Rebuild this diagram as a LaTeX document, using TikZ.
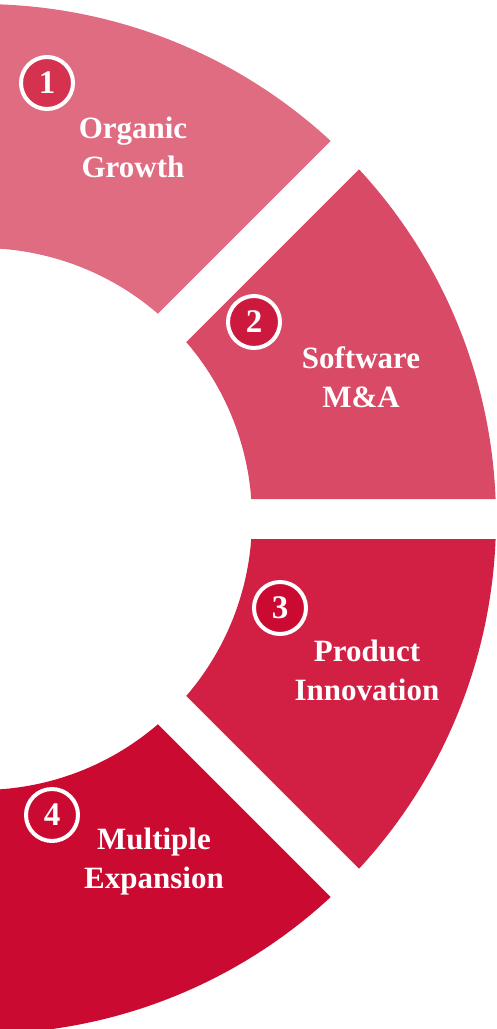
\documentclass[tikz,border=0pt]{standalone}
\usepackage{fontspec}
\setmainfont{Liberation Serif}
\usetikzlibrary{calc}
\definecolor{segA}{HTML}{E06C82}
\definecolor{segB}{HTML}{D84A65}
\definecolor{segC}{HTML}{D22045}
\definecolor{segD}{HTML}{CB0A31}
\definecolor{dotA}{HTML}{D4324F}
\definecolor{dotB}{HTML}{CC1A3E}
\definecolor{dotC}{HTML}{CB0A31}
\definecolor{dotD}{HTML}{CB0A31}
\tikzset{
  x=1pt, y=1pt,
  numdot/.style={circle, draw=white, line width=4pt, minimum size=52pt, inner sep=0pt,
    text=white, font=\fontsize{33}{33}\selectfont\bfseries},
  label/.style={text=white, align=center, font=\fontsize{31}{39}\selectfont\bfseries}
}
% ring geometry: centre, inner and outer radius, half of the gap width
\def\Rout{515}
\def\Rin{271}
\def\aout{2.226}
\def\ain{4.232}
\newcommand{\ringpart}[3]{%
  \fill[#3] ($(C)+(#1+\aout:\Rout)$) arc[start angle=#1+\aout, end angle=#2-\aout, radius=\Rout]
    -- ($(C)+(#2-\ain:\Rin)$) arc[start angle=#2-\ain, end angle=#1+\ain, radius=\Rin] -- cycle;}
\begin{document}
\begin{tikzpicture}
\useasboundingbox (0,-1029) rectangle (496,0);
\clip (0,-1029) rectangle (496,0);
\coordinate (C) at (-19,-519);
\ringpart{45}{125}{segA}
\ringpart{0}{45}{segB}
\ringpart{-45}{0}{segC}
\ringpart{-125}{-45}{segD}

\node[numdot, fill=dotA] (n1) at (47,-83) {1};
\node[numdot, fill=dotB] (n2) at (254,-322) {2};
\node[numdot, fill=dotC] (n3) at (280,-608) {3};
\node[numdot, fill=dotD] (n4) at (52,-815) {4};

\node[label] (t1) at (133,-147) {Organic\\Growth};
\node[label] (t2) at (361,-377) {Software\\M\&A};
\node[label] (t3) at (367,-670) {Product\\Innovation};
\node[label] (t4) at (154,-862) {Multiple\\Expansion};
\end{tikzpicture}
\end{document}
